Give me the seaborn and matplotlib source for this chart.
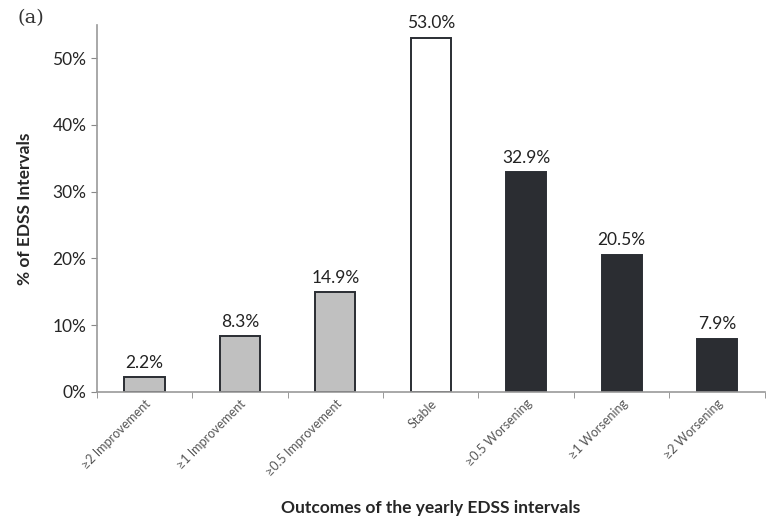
import numpy as np
import pandas as pd
import matplotlib
matplotlib.use("Agg")
import matplotlib.pyplot as plt
import seaborn as sns
from matplotlib.ticker import FuncFormatter

categorias = ["≥2 Improvement", "≥1 Improvement", "≥0.5 Improvement", "Stable",
              "≥0.5 Worsening", "≥1 Worsening", "≥2 Worsening"]
porcentajes = [2.2, 8.3, 14.9, 53.0, 32.9, 20.5, 7.9]
colores = ["#c0c0c0", "#c0c0c0", "#c0c0c0", "#ffffff", "#2a2d33", "#2a2d33", "#2a2d33"]

df = pd.DataFrame({"cat": categorias, "pct": porcentajes})

sns.set_style("white")
plt.rcParams["font.family"] = ["Lato", "DejaVu Sans"]

fig = plt.figure(figsize=(7.74, 5.17), dpi=100)
ax = fig.add_axes([0.125, 0.242, 0.863, 0.71])

sns.barplot(data=df, x="cat", y="pct", hue="cat", palette=dict(zip(categorias, colores)),
            width=0.42, edgecolor="#2a2d33", linewidth=1.4, legend=False, ax=ax)

for i, v in enumerate(porcentajes):
    ax.text(i, v + 1.0, f"{v:.1f}%", ha="center", va="bottom", fontsize=12.5, color="#222222")

ax.set_ylim(0, 55)
ax.set_xlim(-0.5, len(categorias) - 0.5)
ax.set_yticks([0, 10, 20, 30, 40, 50])
ax.yaxis.set_major_formatter(FuncFormatter(lambda v, p: f"{v:.0f}%"))
ax.tick_params(axis="y", labelsize=12.5, length=4, color="#888888", direction="out", left=True)
ax.tick_params(axis="x", length=0, labelsize=9, labelcolor="#555555", pad=4)
ax.set_xticks(range(len(categorias)))
ax.set_xticklabels(categorias, rotation=45, ha="right", rotation_mode="anchor")
ax.set_xticks(np.arange(-0.5, len(categorias), 1.0), minor=True)
ax.tick_params(axis="x", which="minor", length=4, color="#888888", direction="out", bottom=True)

for s in ["top", "right"]:
    ax.spines[s].set_visible(False)
for s in ["left", "bottom"]:
    ax.spines[s].set_color("#999999")
    ax.spines[s].set_linewidth(1.2)

ax.set_ylabel("% of EDSS Intervals", fontsize=12.5, fontweight="bold", labelpad=14)
ax.set_xlabel("Outcomes of the yearly EDSS intervals", fontsize=12.5, fontweight="bold", labelpad=16)
fig.text(0.022, 0.955, "(a)", fontsize=14, family="DejaVu Serif", color="#333333")

fig.savefig("out.png", dpi=100)
